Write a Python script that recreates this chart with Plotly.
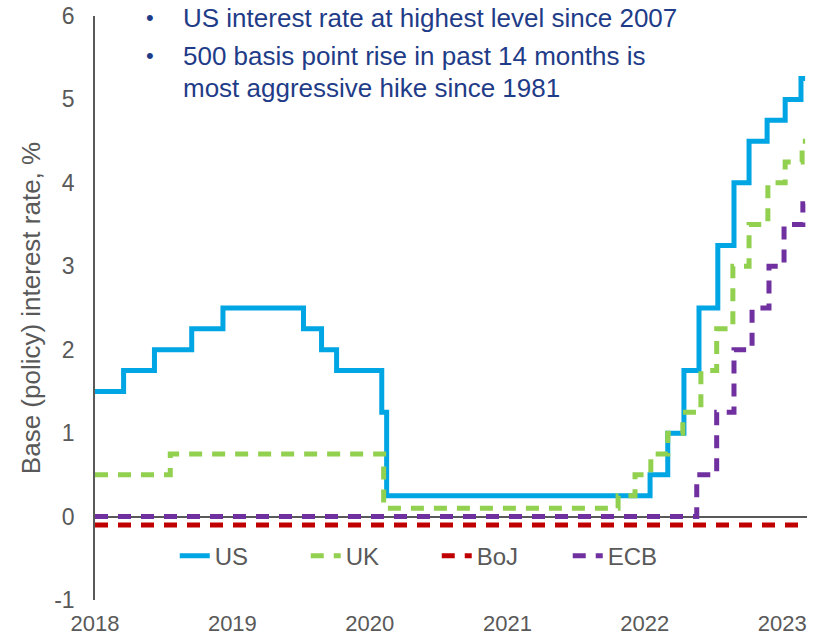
import plotly.graph_objects as go

# ---- data ----
us_dates = ["2018-01-01", "2018-03-18", "2018-06-08", "2018-09-15", "2018-12-07",
            "2019-07-09", "2019-08-26", "2019-10-05", "2020-02-02", "2020-02-15",
            "2022-01-15", "2022-03-03", "2022-04-15", "2022-05-25", "2022-07-14",
            "2022-08-26", "2022-10-05", "2022-11-22", "2023-01-09", "2023-02-20",
            "2023-03-03"]
us_rates = [1.5, 1.75, 2.0, 2.25, 2.5, 2.25, 2.0, 1.75, 1.25, 0.25,
            0.5, 1.0, 1.75, 2.5, 3.25, 4.0, 4.5, 4.75, 5.0, 5.25, 5.25]

uk_dates = ["2018-01-01", "2018-07-20", "2020-02-07", "2021-10-22", "2021-12-06",
            "2022-01-17", "2022-03-03", "2022-04-12", "2022-05-30", "2022-07-11",
            "2022-08-23", "2022-10-05", "2022-11-24", "2023-01-09", "2023-02-23",
            "2023-03-03"]
uk_rates = [0.5, 0.75, 0.1, 0.25, 0.5, 0.75, 1.0, 1.25, 1.75, 2.25,
            3.0, 3.5, 4.0, 4.25, 4.5, 4.5]

boj_dates = ["2018-01-01", "2023-03-03"]
boj_rates = [-0.1, -0.1]

ecb_dates = ["2018-01-01", "2022-05-19", "2022-07-11", "2022-08-26", "2022-10-13",
             "2022-11-27", "2023-01-06", "2023-02-25", "2023-03-03"]
ecb_rates = [0.0, 0.5, 1.25, 2.0, 2.5, 3.0, 3.5, 3.75, 3.75]

year_ticks = ["2018-01-01", "2019-01-01", "2020-01-01", "2021-01-01", "2022-01-01", "2023-01-01"]
year_labels = ["2018", "2019", "2020", "2021", "2022", "2023"]

y_ticks = [-1, 0, 1, 2, 3, 4, 5, 6]
y_labels = ["-1", "0", "1", "2", "3", "4", "5", "6"]

notes = ["US interest rate at highest level since 2007",
         "500 basis point rise in past 14 months is",
         "most aggressive hike since 1981"]

# ---- figure ----
FONT = "Liberation Sans, Arial, sans-serif"
GREY = "#595959"
DASH = "13px,10px"

fig = go.Figure()
fig.add_trace(go.Scatter(x=us_dates, y=us_rates, name="US", mode="lines",
                         line=dict(color="#00A5E3", width=5, shape="hv")))
fig.add_trace(go.Scatter(x=uk_dates, y=uk_rates, name="UK", mode="lines",
                         line=dict(color="#92D050", width=5, shape="hv", dash=DASH)))
fig.add_trace(go.Scatter(x=boj_dates, y=boj_rates, name="BoJ", mode="lines",
                         line=dict(color="#C00000", width=5, shape="hv", dash=DASH)))
fig.add_trace(go.Scatter(x=ecb_dates, y=ecb_rates, name="ECB", mode="lines",
                         line=dict(color="#7030A0", width=5, shape="hv", dash=DASH)))

fig.update_layout(
    width=813, height=639,
    margin=dict(l=95, r=6, t=16, b=39, autoexpand=False),
    paper_bgcolor="white", plot_bgcolor="white",
    font=dict(family=FONT, color=GREY, size=22),
    showlegend=True,
    legend=dict(orientation="h", x=0.112, xanchor="left", y=0.075, yanchor="middle",
                font=dict(size=24, color=GREY), bgcolor="rgba(0,0,0,0)",
                entrywidth=86, entrywidthmode="pixels", itemwidth=30),
)

fig.update_xaxes(type="date", range=["2018-01-01", "2023-03-08"],
                 tickvals=year_ticks, ticktext=year_labels, automargin=False,
                 showgrid=False, showline=False, zeroline=False, ticks="",
                 tickfont=dict(size=22, color=GREY), ticklabelstandoff=8)
fig.update_yaxes(range=[-1, 6], tickvals=y_ticks, ticktext=y_labels, automargin=False,
                 showgrid=False, showline=True, linecolor=GREY, linewidth=1.5,
                 zeroline=True, zerolinecolor=GREY, zerolinewidth=1.5,
                 ticks="", tickfont=dict(size=23, color=GREY), ticklabelstandoff=14,
                 title=dict(text="Base (policy) interest rate, %",
                            font=dict(size=26, color=GREY), standoff=6))

NAVY = "#1F3C88"
ys = [0.997, 0.932, 0.877]
for i, (txt, yv) in enumerate(zip(notes, ys)):
    fig.add_annotation(xref="paper", yref="paper", x=0.121, y=yv,
                       xanchor="left", yanchor="middle", text=txt, showarrow=False,
                       font=dict(size=26, color=NAVY, family=FONT))
    if i < 2:
        fig.add_annotation(xref="paper", yref="paper", x=0.077, y=yv,
                           xanchor="center", yanchor="middle", text="•", showarrow=False,
                           font=dict(size=22, color=NAVY, family=FONT))

fig.write_html("out.html")
